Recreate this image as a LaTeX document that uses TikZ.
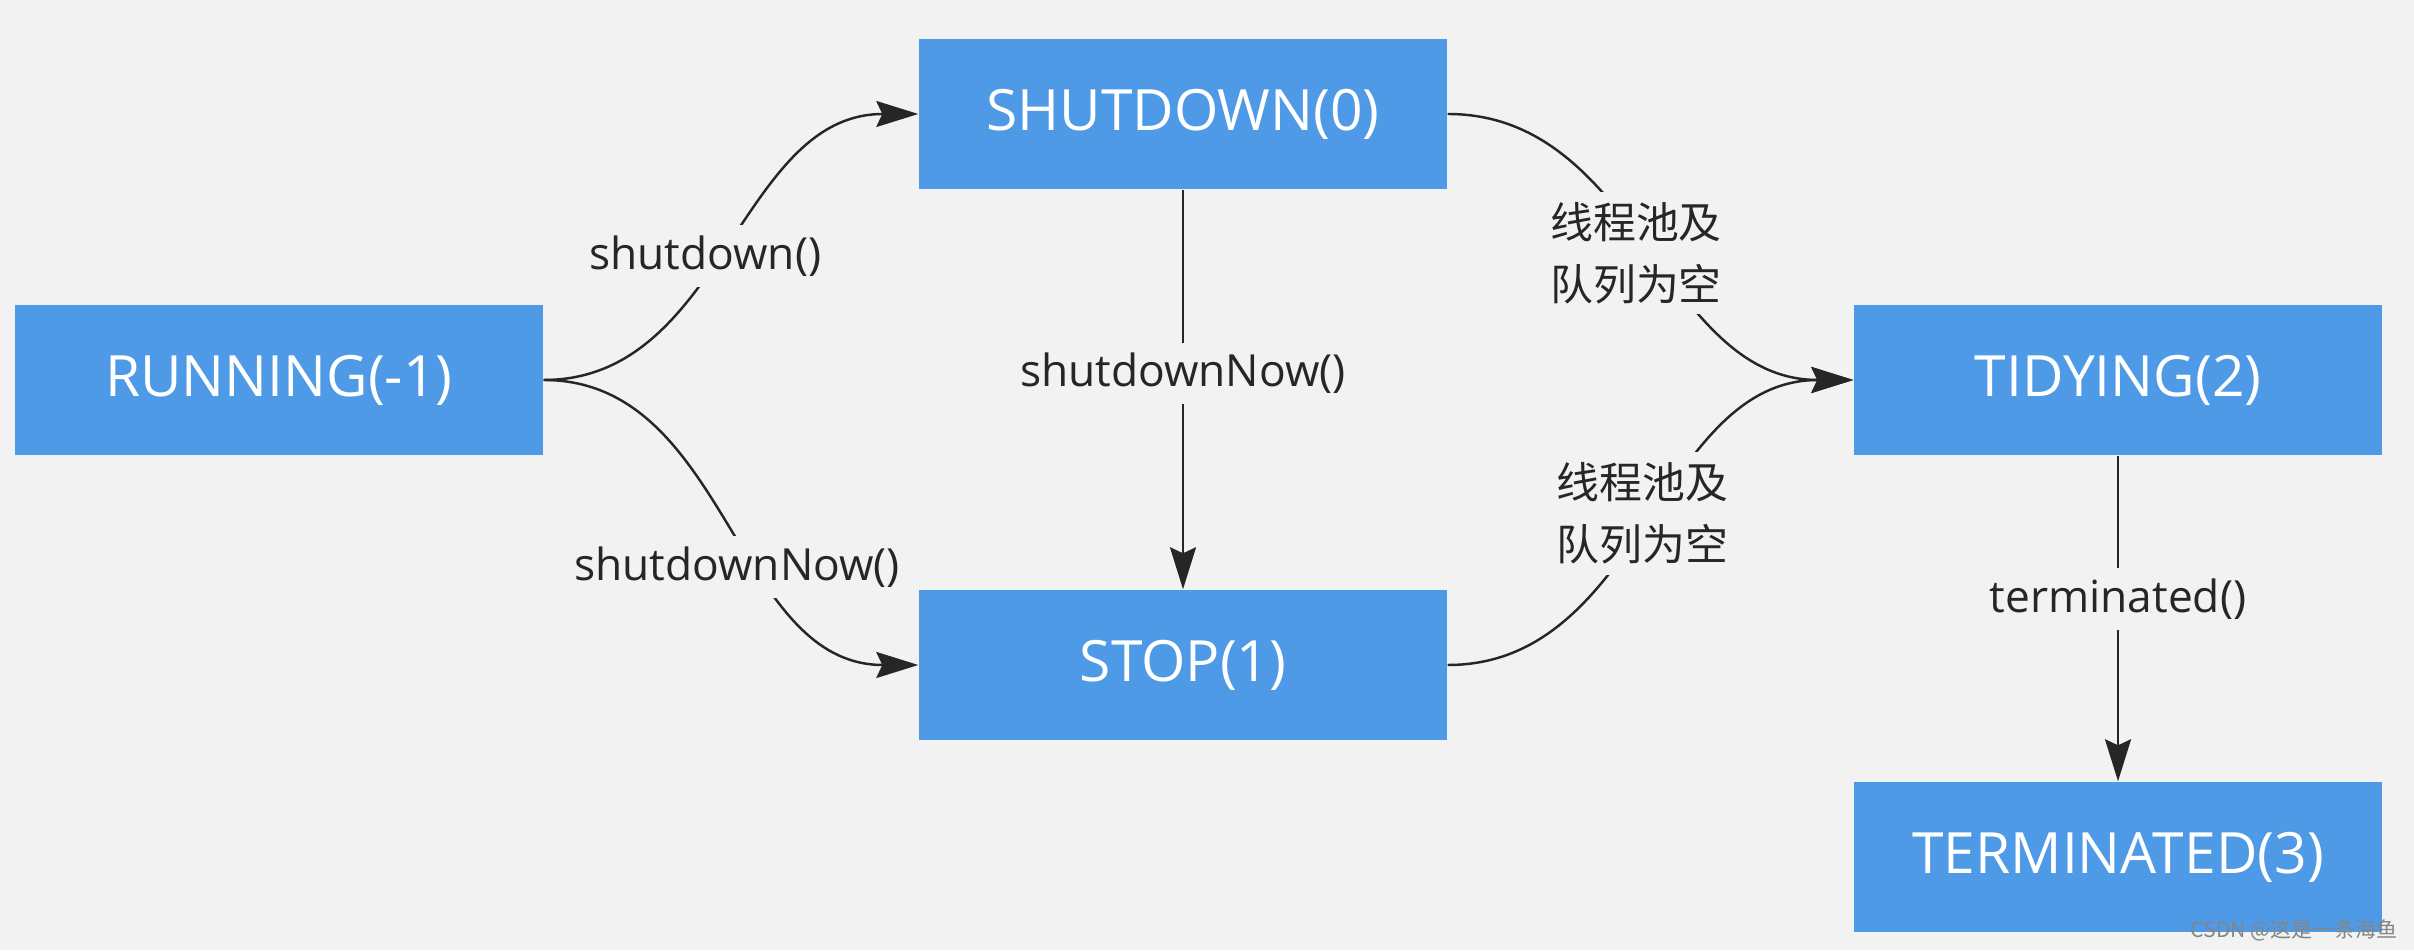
\documentclass[tikz,border=0pt]{standalone}
\usepackage{fontspec}
\setmainfont{Open Sans}
\newfontfamily\cjk{Noto Sans CJK SC}
\usetikzlibrary{arrows.meta}
\definecolor{boxblue}{HTML}{4E9AE6}
\definecolor{bggray}{HTML}{F2F2F2}
\definecolor{wmgray}{HTML}{858585}

\begin{document}
\begin{tikzpicture}[
    box/.style = {fill = boxblue, text = white, minimum width = 5.28cm, minimum height = 1.5cm, inner sep = 0pt, font = \fontsize{16.2}{19}\selectfont},
    lbl/.style = {fill = bggray, inner sep = 3pt, text = black!85, font = \fontsize{12.6}{15}\selectfont},
    cn/.style = {lbl, align = center, font = \cjk\fontsize{12.2}{17.6}\selectfont},
    pfeil/.style = {line width = 0.7pt, draw = black!85, -{Stealth[length = 0.42cm, width = 0.26cm, inset = 0.06cm]}}
]
    % Hintergrund
        \fill[bggray] (0, 0) rectangle (24.14, 9.5);
        \useasboundingbox (0, 0) rectangle (24.14, 9.5);

    % Zustaende
        \node[box] (running) at (2.79, 5.7) {RUNNING(-1)};
        \node[box] (shutdown) at (11.83, 8.36) {SHUTDOWN(0)};
        \node[box] (stop) at (11.83, 2.85) {STOP(1)};
        \node[box] (tidying) at (21.18, 5.7) {TIDYING(2)};
        \node[box] (terminated) at (21.18, 0.93) {TERMINATED(3)};

    % Uebergaenge
        \draw[pfeil] (running.east) to[out = 0, in = 180] node[lbl, pos = 0.45, xshift = -0.11cm, yshift = 0.11cm] {shutdown()} (shutdown.west);
        \draw[pfeil] (running.east) to[out = 0, in = 180] node[lbl, pos = 0.57, xshift = -0.14cm, yshift = -0.15cm] {shutdownNow()} (stop.west);
        \draw[pfeil] (shutdown.south) -- node[lbl, pos = 0.46] {shutdownNow()} (stop.north);
        \draw[pfeil] (shutdown.east) to[out = 0, in = 180] node[cn, pos = 0.48, xshift = -0.08cm, yshift = -0.14cm] {线程池及\\队列为空} (tidying.west);
        \draw[pfeil] (stop.east) to[out = 0, in = 180] node[cn, pos = 0.5, xshift = -0.08cm, yshift = 0.09cm] {线程池及\\队列为空} (tidying.west);
        \draw[pfeil] (tidying.south) -- node[lbl, pos = 0.44] {terminated()} (terminated.north);

    % Wasserzeichen
        \node[text = wmgray, font = \cjk\fontsize{6}{7}\selectfont, anchor = east, inner sep = 0pt] (wm) at (23.98, 0.2) {CSDN @这是一条海鱼};
\end{tikzpicture}
\end{document}
